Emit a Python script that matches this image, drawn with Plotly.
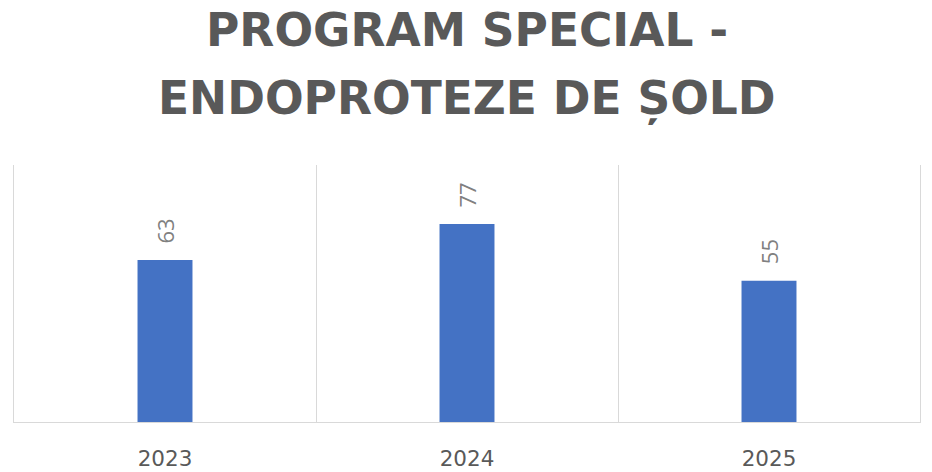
import plotly.graph_objects as go

years = ["2023", "2024", "2025"]
values = [63, 77, 55]
title_lines = ["PROGRAM SPECIAL -", "ENDOPROTEZE DE ȘOLD"]

fig = go.Figure()
fig.add_trace(go.Bar(
    x=years, y=values,
    marker=dict(color="#4472C4", line=dict(width=0)),
    hoverinfo="x+y",
))

annotations = []
# title lines
for txt, yy in zip(title_lines, [1.0 + (165 - 30) / 257, 1.0 + (165 - 98) / 257]):
    annotations.append(dict(
        text=f"<b>{txt}</b>", xref="paper", yref="paper", x=0.5, y=yy,
        xanchor="center", yanchor="middle", showarrow=False,
        font=dict(family="DejaVu Sans", size=45.5, color="#595959"),
    ))
# data labels (category index positions on the category axis)
for i, v in enumerate(values):
    annotations.append(dict(
        text=str(v), x=i, y=v, xref="x", yref="y",
        textangle=-90, xanchor="center", yanchor="bottom", yshift=14,
        showarrow=False,
        font=dict(family="Open Sans", size=22, color="#808080"),
    ))

fig.update_layout(
    width=932, height=472,
    paper_bgcolor="white", plot_bgcolor="white",
    margin=dict(l=14, r=12, t=165, b=50),
    bargap=0.818,
    showlegend=False,
    annotations=annotations,
    xaxis=dict(
        type="category",
        categoryorder="array", categoryarray=years,
        range=[-0.5, len(years) - 0.5],
        tickson="boundaries",
        showgrid=True, gridcolor="#D9D9D9", gridwidth=1,
        showline=True, linecolor="#D9D9D9", linewidth=1,
        ticks="", ticklen=0,
        ticklabelstandoff=17,
        tickfont=dict(family="DejaVu Sans", size=21.5, color="#595959"),
        zeroline=False, automargin=False,
    ),
    yaxis=dict(
        range=[0, 100],
        showgrid=False, showticklabels=False, zeroline=False,
        showline=True, mirror=True, linecolor="#D9D9D9", linewidth=1,
        ticks="", automargin=False,
    ),
)

fig.write_html("out.html", config={"displayModeBar": False},
               post_script="document.body.style.margin='0';")
